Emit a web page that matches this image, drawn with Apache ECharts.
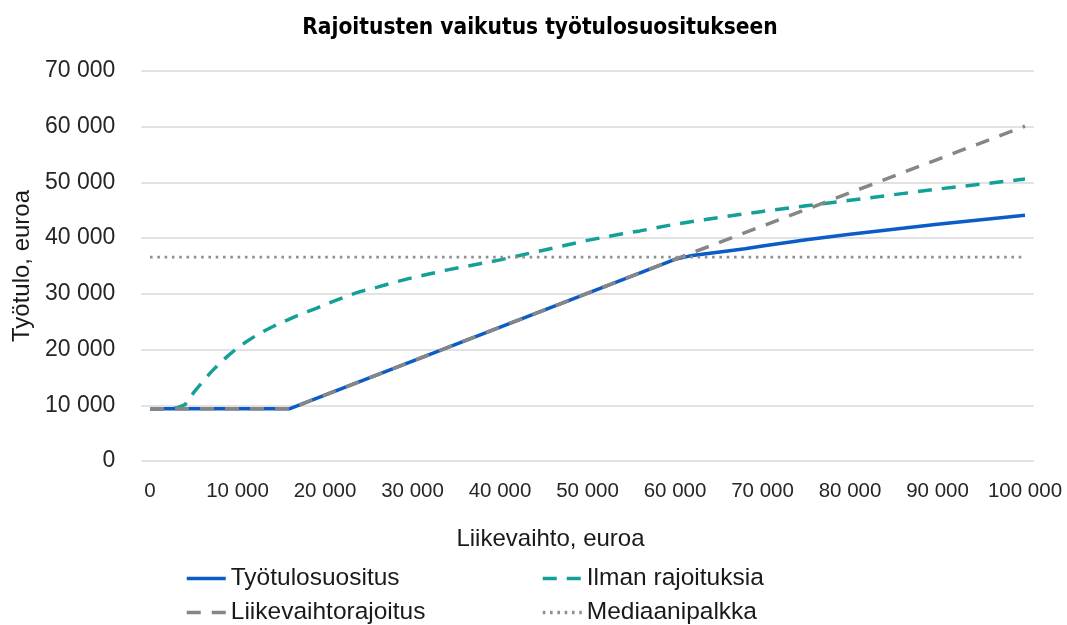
<!DOCTYPE html>
<html>
<head>
<meta charset="utf-8">
<script src="https://cdn.jsdelivr.net/npm/echarts@6/dist/echarts.min.js"></script>
<style>
  html, body { margin: 0; padding: 0; background: #fff; }
  #chart { width: 1067px; height: 625px; }
</style>
</head>
<body>
<div id="chart"></div>
<script>
// tick labels
const xTicks = [0, 10000, 20000, 30000, 40000, 50000, 60000, 70000, 80000, 90000, 100000]

// Työtulosuositus
const suositusX = [0, 16000, 60000, 62000, 64000, 66000, 68000, 70000, 75000, 80000, 85000, 90000, 95000, 100000]
const suositusY = [9400, 9400, 36200, 36900, 37300, 37700, 38100, 38600, 39700, 40700, 41600, 42500, 43300, 44100]

// Ilman rajoituksia
const ilmanX = [0, 2000, 3000, 4000, 5000, 6000, 7000, 8000, 9000, 10000, 11000, 12000, 13000, 14000, 15000,
  16000, 17000, 18000, 19000, 20000, 22000, 24000, 26000, 28000, 30000, 32000, 34000, 36000, 38000, 40000,
  42000, 44000, 46000, 48000, 50000, 52000, 54000, 56000, 58000, 60000, 65000, 70000, 75000, 80000, 85000,
  90000, 95000, 100000]
const ilmanY = [9400, 9400, 9500, 10100, 12300, 14200, 16000, 17600, 19000, 20300, 21400, 22400, 23300, 24100, 24800,
  25500, 26200, 26800, 27400, 28100, 29300, 30400, 31200, 32100, 32900, 33600, 34300, 34900, 35500, 36100,
  36800, 37500, 38200, 38900, 39600, 40200, 40800, 41300, 41900, 42500, 43700, 44800, 45800, 46800, 47800,
  48800, 49700, 50600]

// Liikevaihtorajoitus
const rajoitusX = [0, 16000, 60000, 100000]
const rajoitusY = [9400, 9400, 36200, 60100]

// Mediaanipalkka
const mediaaniX = [0, 100000]
const mediaaniY = [36600, 36600]

const pairs = (xs, ys) => xs.map((x, i) => [x, ys[i]])
const fmt = v => String(v).replace(/\B(?=(\d{3})+(?!\d))/g, ' ')

const chart = echarts.init(document.getElementById('chart'))
const font = "'Liberation Sans', Arial, sans-serif"

// one legend per entry so the two columns line up like in the original
const legendItem = (name, left, top) => ({
  left: left,
  top: top,
  padding: 0,
  itemWidth: 39,
  itemHeight: 14,
  itemGap: 0,
  data: [name],
  itemStyle: { opacity: 0 },
  lineStyle: { width: 3.5 },
  textStyle: { fontSize: 24.5, color: '#1a1a1a', fontFamily: font }
})

const option = {
  backgroundColor: '#ffffff',
  animation: false,
  textStyle: { fontFamily: font },
  title: {
    text: 'Rajoitusten vaikutus työtulosuositukseen',
    left: 535,
    top: 12,
    textAlign: 'center',
    textStyle: {
      fontFamily: "'Liberation Sans Narrow', 'DejaVu Sans Condensed', sans-serif",
      fontWeight: 'bold',
      fontSize: 22.5,
      color: '#000'
    }
  },
  grid: {
    left: 141.25,
    right: 33.25,
    top: 71,
    bottom: 164,
    containLabel: false,
    outerBoundsMode: 'none'
  },
  legend: [
    legendItem('Työtulosuositus', 185, 566),
    legendItem('Liikevaihtorajoitus', 185, 600),
    legendItem('Ilman rajoituksia', 541, 566),
    legendItem('Mediaanipalkka', 541, 600)
  ],
  xAxis: {
    type: 'value',
    min: -1000,
    max: 101000,
    name: 'Liikevaihto, euroa',
    nameLocation: 'middle',
    nameGap: 66,
    nameTextStyle: { fontSize: 24, color: '#1a1a1a', padding: [0, 74, 0, 0] },
    axisLine: { show: false },
    axisTick: { show: false },
    splitLine: { show: false },
    axisLabel: {
      customValues: xTicks,
      formatter: fmt,
      fontSize: 20.5,
      color: '#262626',
      margin: 20
    }
  },
  yAxis: {
    type: 'value',
    min: 0,
    max: 70000,
    interval: 10000,
    name: 'Työtulo, euroa',
    nameLocation: 'middle',
    nameRotate: 90,
    nameGap: 106,
    nameTextStyle: { fontSize: 24, color: '#1a1a1a' },
    axisLine: { show: false },
    axisTick: { show: false },
    splitLine: { lineStyle: { color: '#d9d9d9', width: 1.5 } },
    axisLabel: {
      formatter: fmt,
      fontSize: 23,
      color: '#262626',
      margin: 26
    }
  },
  series: [
    {
      name: 'Ilman rajoituksia',
      type: 'line',
      symbol: 'none',
      data: pairs(ilmanX, ilmanY),
      lineStyle: { color: '#14a098', width: 3.5, type: [14, 10] },
      itemStyle: { color: '#14a098' }
    },
    {
      name: 'Työtulosuositus',
      type: 'line',
      symbol: 'none',
      data: pairs(suositusX, suositusY),
      lineStyle: { color: '#0b5cc5', width: 3.5 },
      itemStyle: { color: '#0b5cc5' }
    },
    {
      name: 'Liikevaihtorajoitus',
      type: 'line',
      symbol: 'none',
      data: pairs(rajoitusX, rajoitusY),
      lineStyle: { color: '#868686', width: 3.5, type: [14, 11] },
      itemStyle: { color: '#868686' }
    },
    {
      name: 'Mediaanipalkka',
      type: 'line',
      symbol: 'none',
      data: pairs(mediaaniX, mediaaniY),
      lineStyle: { color: '#8f8f8f', width: 2.75, type: [2.6, 4.7] },
      itemStyle: { color: '#8f8f8f' }
    }
  ]
}

chart.setOption(option)
</script>
</body>
</html>
